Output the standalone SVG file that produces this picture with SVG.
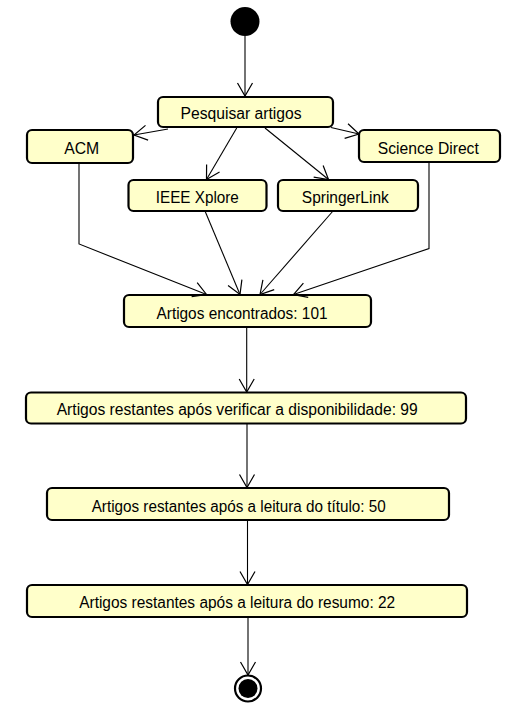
<svg xmlns="http://www.w3.org/2000/svg" width="527" height="712" viewBox="0 0 527 712">
<defs>
<marker id="arr" markerUnits="userSpaceOnUse" markerWidth="20" markerHeight="20" viewBox="-15 -10 20 20" refX="0" refY="0" orient="auto" overflow="visible">
<path d="M-13,-7.5 L0,0 L-13,7.5" fill="none" stroke="#000" stroke-width="1.2"/>
</marker>
</defs>
<style>
.box{fill:#ffffca;stroke:#000;stroke-width:2.2}
.lbl{font-family:"Liberation Sans",Arial,sans-serif;font-size:16px;fill:#000;text-anchor:middle}
.con{fill:none;stroke:#000;stroke-width:1.1;marker-end:url(#arr)}
</style>
<rect width="527" height="712" fill="#fff"/>
<g id="start"><circle cx="245" cy="21.5" r="14.5" fill="#000"/></g>
<g id="pesquisar"><rect class="box" x="158" y="97" width="175" height="30" rx="5"/><text class="lbl" x="241" y="119" textLength="121" lengthAdjust="spacingAndGlyphs">Pesquisar artigos</text></g>
<g id="acm"><rect class="box" x="27" y="130" width="106" height="33" rx="5"/><text class="lbl" x="81.7" y="154" textLength="35" lengthAdjust="spacingAndGlyphs">ACM</text></g>
<g id="science"><rect class="box" x="359" y="130" width="141" height="32" rx="5"/><text class="lbl" x="428.3" y="153.5" textLength="101" lengthAdjust="spacingAndGlyphs">Science Direct</text></g>
<g id="ieee"><rect class="box" x="128.5" y="180" width="138" height="31" rx="5"/><text class="lbl" x="197.3" y="203.3" textLength="83" lengthAdjust="spacingAndGlyphs">IEEE Xplore</text></g>
<g id="springer"><rect class="box" x="278" y="180" width="140" height="31" rx="5"/><text class="lbl" x="345.3" y="203.3" textLength="87" lengthAdjust="spacingAndGlyphs">SpringerLink</text></g>
<g id="encontrados"><rect class="box" x="124" y="295" width="247" height="32" rx="5"/><text class="lbl" x="242" y="319.3" textLength="171" lengthAdjust="spacingAndGlyphs">Artigos encontrados: 101</text></g>
<g id="verificar"><rect class="box" x="26" y="392.5" width="440" height="31" rx="5"/><text class="lbl" x="237.2" y="415" textLength="361" lengthAdjust="spacingAndGlyphs">Artigos restantes após verificar a disponibilidade: 99</text></g>
<g id="titulo"><rect class="box" x="47" y="488" width="402" height="32" rx="5"/><text class="lbl" x="238.7" y="511.7" textLength="294" lengthAdjust="spacingAndGlyphs">Artigos restantes após a leitura do título: 50</text></g>
<g id="resumo"><rect class="box" x="27" y="585" width="440" height="32" rx="5"/><text class="lbl" x="237.2" y="607.7" textLength="316" lengthAdjust="spacingAndGlyphs">Artigos restantes após a leitura do resumo: 22</text></g>
<g id="end"><circle cx="248" cy="688.5" r="13" fill="#fff" stroke="#000" stroke-width="2.2"/><circle cx="248" cy="688.5" r="9.5" fill="#000"/></g>
<g id="connectors">
<path class="con" d="M245,36 L245,96"/>
<path class="con" d="M168,129 L134,135"/>
<path class="con" d="M331,127.5 L359,134"/>
<path class="con" d="M236.7,128 L206.5,179.5"/>
<path class="con" d="M265,128 L328.5,179.5"/>
<path class="con" d="M79,163 L79,244 L206.5,294.5"/>
<path class="con" d="M205,211 L240,294.5"/>
<path class="con" d="M333,211 L260,294.5"/>
<path class="con" d="M429,162 L429,248.5 L293.5,294.5"/>
<path class="con" d="M246.7,327 L246.7,392"/>
<path class="con" d="M247,423.5 L247,487.5"/>
<path class="con" d="M247.5,520 L247.5,584.5"/>
<path class="con" d="M248,617 L248,675"/>
</g>
</svg>
